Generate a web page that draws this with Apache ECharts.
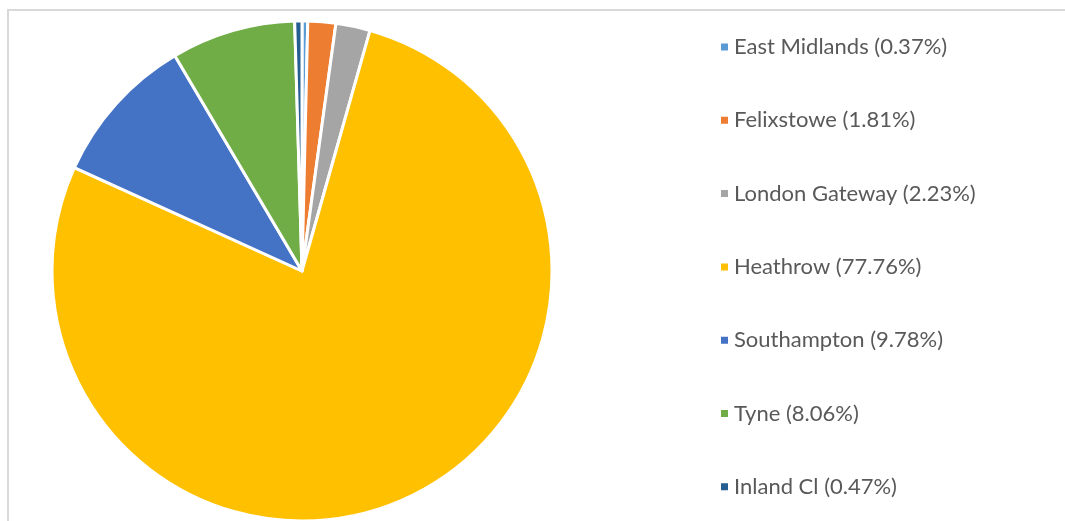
<!DOCTYPE html>
<html><head><meta charset="utf-8">
<script src="https://cdn.jsdelivr.net/npm/echarts@6/dist/echarts.min.js"></script>
<style>html,body{margin:0;padding:0;background:#fff}#c{width:1065px;height:521px}</style>
</head><body><div id="c"></div>
<script>
var categories = ['East Midlands','Felixstowe','London Gateway','Heathrow','Southampton','Tyne','Inland Cl'];
var values = [0.37, 1.81, 2.23, 77.76, 9.78, 8.06, 0.47];
var colors = ['#5B9BD5','#ED7D31','#A5A5A5','#FFC000','#4472C4','#70AD47','#255E91'];
var data = categories.map(function(n,i){return {name:n, value:values[i], itemStyle:{color:colors[i]}};});
var chart = echarts.init(document.getElementById('c'), null, {renderer:'canvas'});
chart.setOption({
  animation:false,
  graphic:[{type:'polyline', shape:{points:[[8,530],[8,10],[1070,10]]}, style:{fill:null, stroke:'#d9d9d9', lineWidth:2}, silent:true}],
  legend:{
    orient:'vertical', left:714, top:30, itemWidth:9, itemHeight:9, itemGap:49.3,
    icon:'rect',
    textStyle:{fontFamily:'Lato', fontSize:22, color:'#595959', lineHeight:24},
    formatter:function(n){var i=categories.indexOf(n);return n+' ('+values[i].toFixed(2)+'%)';}
  },
  series:[{
    type:'pie', center:[302,271], radius:250, startAngle:90, clockwise:true,
    label:{show:false}, labelLine:{show:false},
    itemStyle:{borderColor:'#fff', borderWidth:3},
    data:data
  }]
});
</script></body></html>
